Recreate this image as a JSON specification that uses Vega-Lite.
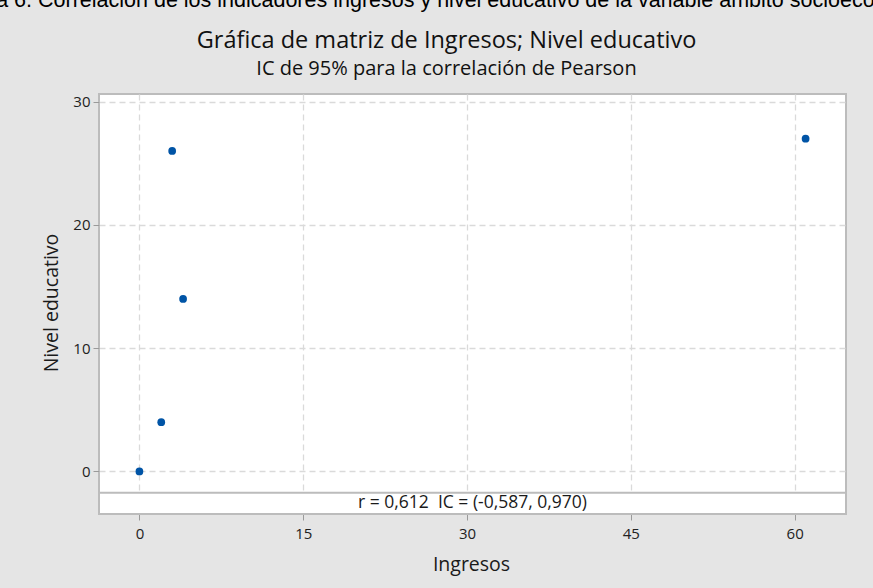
{
  "$schema": "https://vega.github.io/schema/vega-lite/v6.json",
  "width": 747,
  "height": 420,
  "autosize": {"type": "none"},
  "padding": {"left": 99, "top": 94, "right": 27, "bottom": 74},
  "background": "#e5e5e5",
  "title": {
    "text": "Figura 6. Correlación de los indicadores ingresos y nivel educativo de la variable ámbito socioeconómico",
    "anchor": "start",
    "frame": "group",
    "orient": "top",
    "font": "Liberation Sans",
    "fontSize": 21.5,
    "fontWeight": "normal",
    "color": "#000000",
    "baseline": "alphabetic",
    "dx": -151.8,
    "offset": 0
  },
  "datasets": {
    "pts": [
      {"Ingresos": 0, "Nivel": 0},
      {"Ingresos": 2, "Nivel": 4},
      {"Ingresos": 3, "Nivel": 26},
      {"Ingresos": 4, "Nivel": 14},
      {"Ingresos": 61, "Nivel": 27}
    ],
    "stat": [
      {"label": "r = 0,612\u00a0 IC = (-0,587, 0,970)"}
    ]
  },
  "layer": [
    {
      "data": {"name": "stat"},
      "mark": {"type": "rect", "fill": "white", "stroke": "#bcbcbc", "strokeWidth": 2},
      "encoding": {
        "x": {"datum": -3.7, "type": "quantitative", "scale": {"domain": [-3.7, 64.7], "nice": false, "zero": false}, "axis": null},
        "x2": {"datum": 64.7},
        "y": {"datum": -3.45, "type": "quantitative", "scale": {"domain": [-3.45, 30.62], "nice": false, "zero": false}, "axis": null},
        "y2": {"datum": -1.72}
      }
    },
    {
      "data": {"name": "pts"},
      "mark": {"type": "circle", "size": 60, "color": "#0054a6", "opacity": 1},
      "encoding": {
        "x": {
          "field": "Ingresos", "type": "quantitative",
          "scale": {"domain": [-3.7, 64.7], "nice": false, "zero": false},
          "axis": {
            "orient": "bottom", "values": [0, 15, 30, 45, 60], "grid": true,
            "labelPadding": 6, "title": "Ingresos",
            "titleY": 56, "titleX": 372, "titleBaseline": "alphabetic", "titleAlign": "center"
          }
        },
        "y": {
          "field": "Nivel", "type": "quantitative",
          "scale": {"domain": [-3.45, 30.62], "nice": false, "zero": false},
          "axis": {
            "orient": "left", "values": [0, 10, 20, 30], "grid": true,
            "labelPadding": 3, "title": "Nivel educativo",
            "titleX": -41.5, "titleY": 208.5, "titleBaseline": "alphabetic", "titleAlign": "center", "titleAngle": 270
          }
        }
      }
    },
    {
      "data": {"name": "stat"},
      "mark": {"type": "text", "font": "Open Sans", "fontSize": 17.5, "color": "#1a1a1a", "baseline": "middle", "align": "center"},
      "encoding": {
        "text": {"field": "label"},
        "y": {"datum": -2.585, "type": "quantitative", "scale": {"domain": [-3.45, 30.62], "nice": false, "zero": false}, "axis": null}
      }
    },
    {
      "data": {"name": "pts"},
      "mark": {"type": "point", "opacity": 0},
      "encoding": {
        "x": {
          "field": "Ingresos", "type": "quantitative",
          "scale": {"domain": [-3.7, 64.7], "nice": false, "zero": false},
          "axis": {
            "orient": "top", "labels": false, "ticks": false, "grid": false, "domain": false,
            "title": "Gráfica de matriz de Ingresos; Nivel educativo",
            "titleFontSize": 23.5, "titleColor": "#111111", "titleX": 347, "titleY": -46.3, "titleAngle": 0,
            "titleAlign": "center", "titleBaseline": "alphabetic"
          }
        },
        "y": {
          "field": "Nivel", "type": "quantitative",
          "scale": {"domain": [-3.45, 30.62], "nice": false, "zero": false},
          "axis": {
            "orient": "right", "labels": false, "ticks": false, "grid": false, "domain": false,
            "title": "IC de 95% para la correlación de Pearson",
            "titleFontSize": 20, "titleColor": "#111111", "titleX": -400, "titleY": -20, "titleAngle": 0,
            "titleAlign": "center", "titleBaseline": "alphabetic"
          }
        }
      }
    }
  ],
  "resolve": {"axis": {"x": "independent", "y": "independent"}},
  "config": {
    "view": {"stroke": "#bcbcbc", "strokeWidth": 2, "fill": "white"},
    "axis": {
      "domain": false,
      "gridColor": "#dadada",
      "gridDash": [6, 4],
      "gridWidth": 1.3,
      "tickColor": "#9a9a9a",
      "tickSize": 6,
      "labelFont": "Open Sans",
      "labelFontSize": 15,
      "labelColor": "#222222",
      "titleFont": "Open Sans",
      "titleFontSize": 19.5,
      "titleFontWeight": "normal",
      "titleColor": "#1a1a1a"
    }
  }
}
